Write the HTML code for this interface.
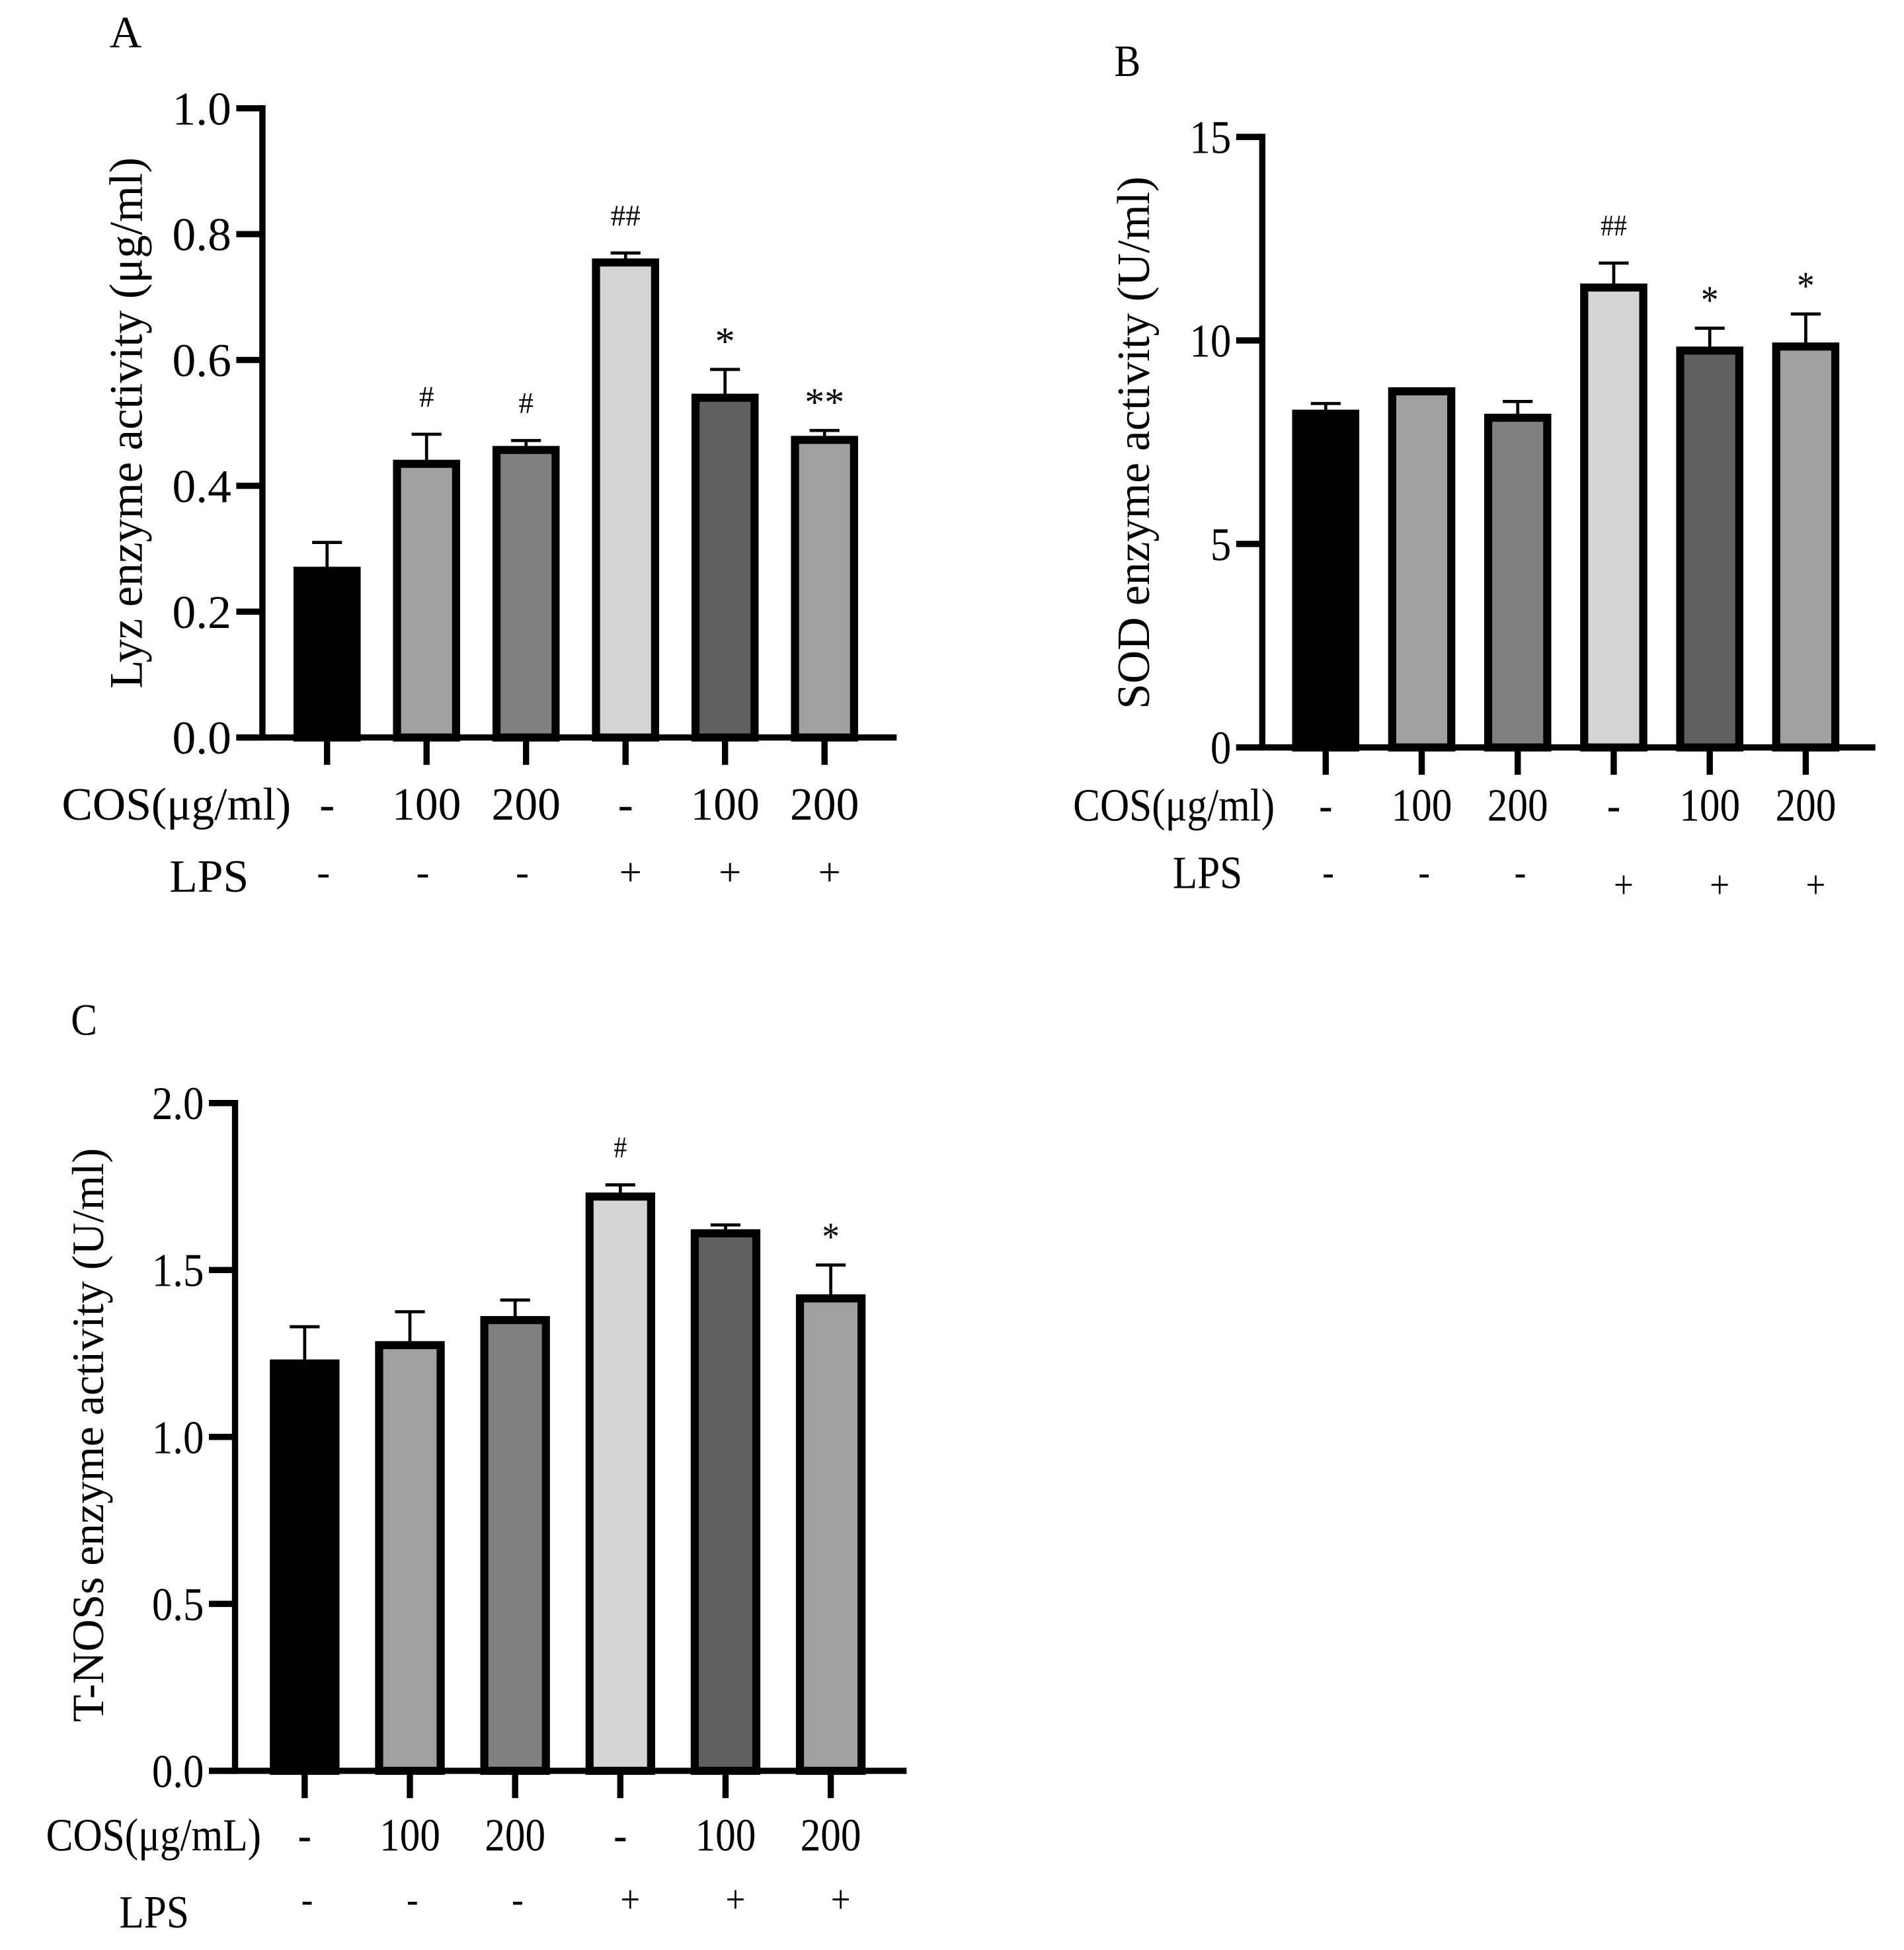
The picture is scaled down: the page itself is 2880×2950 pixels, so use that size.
<!DOCTYPE html>
<html><head><meta charset="utf-8"><style>
html,body{margin:0;padding:0;background:#fff;}
svg{display:block;font-family:"Liberation Serif",serif;}
</style></head><body>
<svg id="fig" width="2880" height="2950" viewBox="0 0 1531 1568" xmlns="http://www.w3.org/2000/svg"></svg>
<script>
// ---- Data ----
const cosLabels = ["-", "100", "200", "-", "100", "200"];
const lpsLabels = ["-", "-", "-", "+", "+", "+"];
const fills = ["#000000", "#a0a0a4", "#808080", "#d4d4d4", "#606060", "#a0a0a4"];

const lyzValues = [0.265, 0.435, 0.457, 0.755, 0.540, 0.473];
const lyzErrors = [0.045, 0.047, 0.015, 0.015, 0.045, 0.015];
const lyzSig = ["", "#", "#", "##", "*", "**"];
const lyzTicks = [0.0, 0.2, 0.4, 0.6, 0.8, 1.0];
const lyzTickLabels = ["0.0", "0.2", "0.4", "0.6", "0.8", "1.0"];

const sodValues = [8.2, 8.75, 8.1, 11.3, 9.75, 9.85];
const sodErrors = [0.25, 0.05, 0.4, 0.6, 0.55, 0.8];
const sodSig = ["", "", "", "##", "*", "*"];
const sodTicks = [0, 5, 10, 15];
const sodTickLabels = ["0", "5", "10", "15"];

const nosValues = [1.22, 1.275, 1.35, 1.72, 1.61, 1.415];
const nosErrors = [0.11, 0.10, 0.06, 0.035, 0.025, 0.10];
const nosSig = ["", "", "", "#", "", "*"];
const nosTicks = [0.0, 0.5, 1.0, 1.5, 2.0];
const nosTickLabels = ["0.0", "0.5", "1.0", "1.5", "2.0"];

const svg = document.getElementById('fig');
const NS = "http://www.w3.org/2000/svg";
function mk(tag, attrs, parent, text) {
  const e = document.createElementNS(NS, tag);
  for (const k in attrs) e.setAttribute(k, attrs[k]);
  if (text !== undefined) e.textContent = text;
  (parent || svg).appendChild(e);
  return e;
}

function panel(cfg) {
  const g = mk('g', {});
  
  
  const yS = v => cfg.y0 - (v - cfg.min) / (cfg.max - cfg.min) * (cfg.y0 - cfg.yTop);
  const xS = i => cfg.x0c + i * cfg.step;
  const sx = cfg.sx;
  const SW = 6.5;
  const txt = (x, y, s, size, anchor, name) => {
    const t = mk('text', {x: x / sx, y: y, 'font-size': size, 'text-anchor': anchor, transform: 'scale(' + sx + ',1)'}, g, s);
    
    
    return t;
  };
  cfg.values.forEach((v, i) => {
    const cx = xS(i), w = cfg.bw, top = yS(v);
    const et = yS(v + cfg.errors[i]);
    const eb = mk('path', {d: `M${cx} ${top} V${et} M${cx - 12} ${et} H${cx + 12}`, stroke: '#000', 'stroke-width': 2.5, fill: 'none'}, g);
    
    
    const r = mk('rect', {x: cx - w / 2 + SW / 2, y: top, width: w - SW, height: cfg.y0 - top, fill: fills[i], stroke: '#000', 'stroke-width': SW}, g);
    
    
    if (cfg.sig[i]) {
      const star = cfg.sig[i].indexOf('*') >= 0;
      txt(cx, et - (star ? 12 : 22), cfg.sig[i], star ? 32 : 24, 'middle', 'significance-' + (i + 1));
    }
    const tk = mk('line', {x1: cx, x2: cx, y1: cfg.y0, y2: cfg.y0 + 22, stroke: '#000', 'stroke-width': 5}, g);
    
    
    txt(cx, cfg.cosY, cosLabels[i], 37, 'middle', 'cos-label-' + (i + 1));
    txt(cx + (lpsLabels[i] === '+' ? cfg.plusDx : cfg.minusDx), cfg.lpsY + (lpsLabels[i] === '+' ? cfg.plusDy : 0), lpsLabels[i], 32, 'middle', 'lps-label-' + (i + 1));
  });
  const ya = mk('line', {x1: cfg.xAxis, x2: cfg.xAxis, y1: cfg.yTop - 2.5, y2: cfg.y0 + 2.5, stroke: '#000', 'stroke-width': 5}, g);
  
  
  const xa = mk('line', {x1: cfg.xAxis - 21, x2: cfg.xEnd, y1: cfg.y0, y2: cfg.y0, stroke: '#000', 'stroke-width': 5}, g);
  
  
  cfg.ticks.forEach((t, i) => {
    const y = yS(t);
    const l = mk('line', {x1: cfg.xAxis - 21, x2: cfg.xAxis, y1: y, y2: y, stroke: '#000', 'stroke-width': 5}, g);
    
    
    txt(cfg.xAxis - 25, y + 13, cfg.tickLabels[i], 38, 'end', 'y-tick-label-' + i);
  });
  const ty = mk('text', {x: 0, y: 0, 'font-size': cfg.titleSize, 'text-anchor': 'middle', transform: `translate(${cfg.titleX},${cfg.titleY}) rotate(-90) scale(${cfg.tsx},1)`}, g, cfg.title);
  
  
  txt(cfg.cosNameX, cfg.cosY, cfg.cosName, 37, 'end', 'cos-row-title');
  txt(cfg.lpsNameX, cfg.lpsNameY, 'LPS', 37, 'end', 'lps-row-title');
  txt(cfg.letterX, cfg.letterY, cfg.letter, 36, 'start', 'panel-letter');
}

panel({name: 'panel-a-lyz', values: lyzValues, errors: lyzErrors, sig: lyzSig, ticks: lyzTicks, tickLabels: lyzTickLabels,
  min: 0, max: 1, y0: 593, yTop: 87, xAxis: 211, xEnd: 721, x0c: 263, step: 80, bw: 54, sx: 1, tsx: 1, titleSize: 37.5,
  cosY: 659, lpsY: 712, lpsNameY: 717, plusDx: 4, minusDx: -3, plusDy: 0,
  title: 'Lyz enzyme activity (μg/ml)', titleX: 114, titleY: 340, cosName: 'COS(μg/ml)', cosNameX: 234, lpsNameX: 200,
  letter: 'A', letterX: 88, letterY: 38});

panel({name: 'panel-b-sod', values: sodValues, errors: sodErrors, sig: sodSig, ticks: sodTicks, tickLabels: sodTickLabels,
  min: 0, max: 15, y0: 601, yTop: 110, xAxis: 1015, xEnd: 1508, x0c: 1066, step: 77.2, bw: 54, sx: 0.88, tsx: 1, titleSize: 37,
  cosY: 660, lpsY: 712, lpsNameY: 714, plusDx: 8, minusDx: 2, plusDy: 10,
  title: 'SOD enzyme activity (U/ml)', titleX: 924, titleY: 356, cosName: 'COS(μg/ml)', cosNameX: 1025, lpsNameX: 999,
  letter: 'B', letterX: 896, letterY: 61});

panel({name: 'panel-c-tnos', values: nosValues, errors: nosErrors, sig: nosSig, ticks: nosTicks, tickLabels: nosTickLabels,
  min: 0, max: 2, y0: 1424, yTop: 887, xAxis: 189, xEnd: 729, x0c: 245, step: 84.6, bw: 56, sx: 0.88, tsx: 1, titleSize: 36,
  cosY: 1488, lpsY: 1538, lpsNameY: 1550, plusDx: 8, minusDx: 2, plusDy: 0,
  title: 'T-NOSs enzyme activity (U/ml)', titleX: 83, titleY: 1154, cosName: 'COS(μg/mL)', cosNameX: 210, lpsNameX: 152,
  letter: 'C', letterX: 57, letterY: 832});
</script>
</body></html>
